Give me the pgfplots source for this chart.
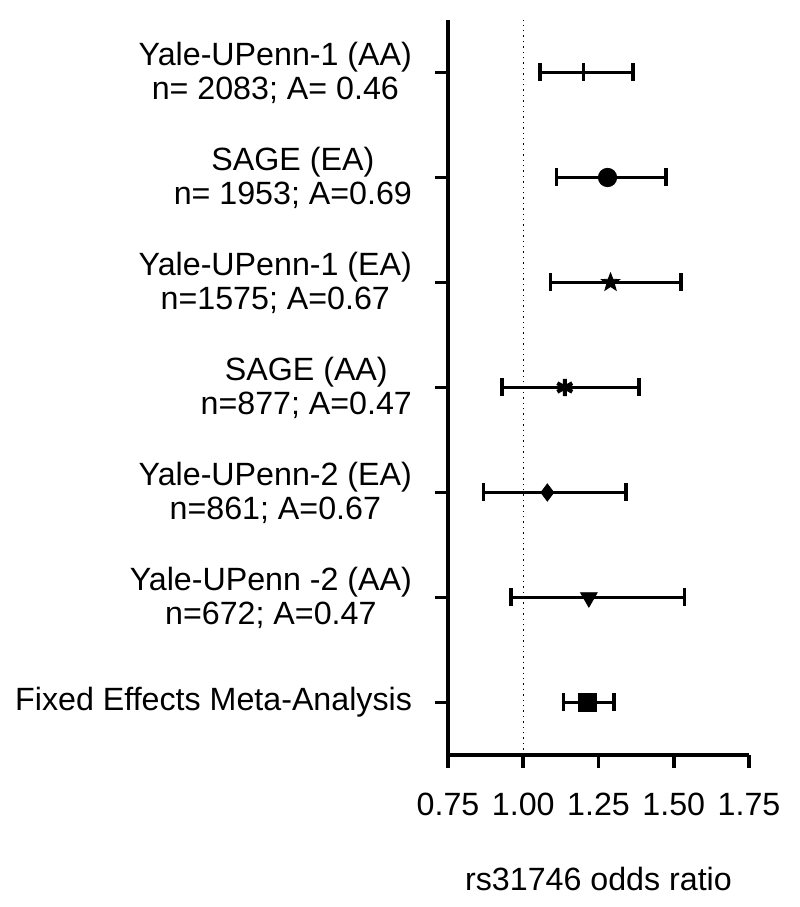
\documentclass[border=0pt]{standalone}
\usepackage{fontspec}
\setmainfont{Liberation Sans}
\usepackage{pgfplots}
\pgfplotsset{compat=1.18}
\usetikzlibrary{calc,plotmarks}

% filled five-pointed star
\pgfdeclareplotmark{fstar}{%
  \pgfpathmoveto{\pgfpointpolar{90}{\pgfplotmarksize}}%
  \pgfpathlineto{\pgfpointpolar{126}{0.42\pgfplotmarksize}}%
  \pgfpathlineto{\pgfpointpolar{162}{\pgfplotmarksize}}%
  \pgfpathlineto{\pgfpointpolar{198}{0.42\pgfplotmarksize}}%
  \pgfpathlineto{\pgfpointpolar{234}{\pgfplotmarksize}}%
  \pgfpathlineto{\pgfpointpolar{270}{0.42\pgfplotmarksize}}%
  \pgfpathlineto{\pgfpointpolar{306}{\pgfplotmarksize}}%
  \pgfpathlineto{\pgfpointpolar{342}{0.42\pgfplotmarksize}}%
  \pgfpathlineto{\pgfpointpolar{18}{\pgfplotmarksize}}%
  \pgfpathlineto{\pgfpointpolar{54}{0.42\pgfplotmarksize}}%
  \pgfpathclose
  \pgfusepathqfillstroke}

% cap / centre mark drawn as a filled thin rectangle
\pgfdeclareplotmark{cap}{%
  \pgfpathrectangle{\pgfqpoint{-0.9pt}{-\pgfplotmarksize}}{\pgfqpoint{1.8pt}{2\pgfplotmarksize}}%
  \pgfusepathqfill}

\begin{document}
\begin{tikzpicture}[font=\fontsize{16.1pt}{17pt}\selectfont]
\begin{axis}[
  name=ax, scale only axis,
  width=150.5pt, height=367.5pt,
  xmin=0.75, xmax=1.75, ymin=0.5, ymax=7.5,
  axis lines=left,
  axis line style={-, line width=1.7pt},
  xtick={0.75,1,1.25,1.5,1.75},
  xticklabels={0.75,1.00,1.25,1.50,1.75},
  ytick={1,2,3,4,5,6,7},
  yticklabels={
    {Fixed Effects Meta-Analysis},
    {Yale-UPenn -2 (AA)\\n=672; A=0.47},
    {Yale-UPenn-2 (EA)\\n=861; A=0.67},
    {SAGE (AA)\\n=877; A=0.47},
    {Yale-UPenn-1 (EA)\\n=1575; A=0.67},
    {SAGE (EA)\\n= 1953; A=0.69},
    {Yale-UPenn-1 (AA)\\n= 2083; A= 0.46}},
  yticklabel style={align=center, xshift=-8pt},
  xticklabel style={yshift=-9pt},
  tick align=outside,
  major tick length=6.5pt,
  every tick/.style={line width=1.8pt, black},
  xlabel={rs31746 odds ratio},
  xlabel style={yshift=-19pt},
  clip=false,
  error bars/error bar style={line width=1.6pt},
  error bars/error mark=cap,
  error bars/error mark options={mark size=4.5pt, black, fill=black},
]
% reference line at OR = 1
\addplot[black, line width=0.7pt, dotted] coordinates {(1,0.5) (1,7.5)};

\addplot[black, only marks, mark=cap, mark size=4.5pt, mark options={fill=black},
  error bars/.cd, x dir=both, x explicit]
  coordinates {(1.200,7) += (0.165,0) -= (0.145,0)};
\addplot[black, only marks, mark=*, mark size=4.6pt,
  error bars/.cd, x dir=both, x explicit]
  coordinates {(1.280,6) += (0.195,0) -= (0.170,0)};
\addplot[black, only marks, mark=fstar, mark size=4.8pt,
  error bars/.cd, x dir=both, x explicit]
  coordinates {(1.290,5) += (0.235,0) -= (0.200,0)};
\addplot[black, only marks, mark=asterisk, mark size=4.3pt, mark options={line width=2pt},
  error bars/.cd, x dir=both, x explicit]
  coordinates {(1.138,4) += (0.247,0) -= (0.208,0)};
\addplot[black, only marks, mark=diamond*, mark size=4.3pt,
  error bars/.cd, x dir=both, x explicit]
  coordinates {(1.080,3) += (0.262,0) -= (0.212,0)};
\addplot[black, only marks, mark=triangle*, mark size=4.8pt, mark options={rotate=180},
  error bars/.cd, x dir=both, x explicit]
  coordinates {(1.218,2) += (0.318,0) -= (0.258,0)};
\addplot[black, only marks, mark=square*, mark size=4.6pt, mark options={rounded corners=1.5pt},
  error bars/.cd, x dir=both, x explicit]
  coordinates {(1.214,1) += (0.087,0) -= (0.080,0)};
\end{axis}
\path ($(ax.south west)+(-224pt,-76pt)$) rectangle ($(ax.north east)+(25.5pt,10pt)$);
\end{tikzpicture}
\end{document}
